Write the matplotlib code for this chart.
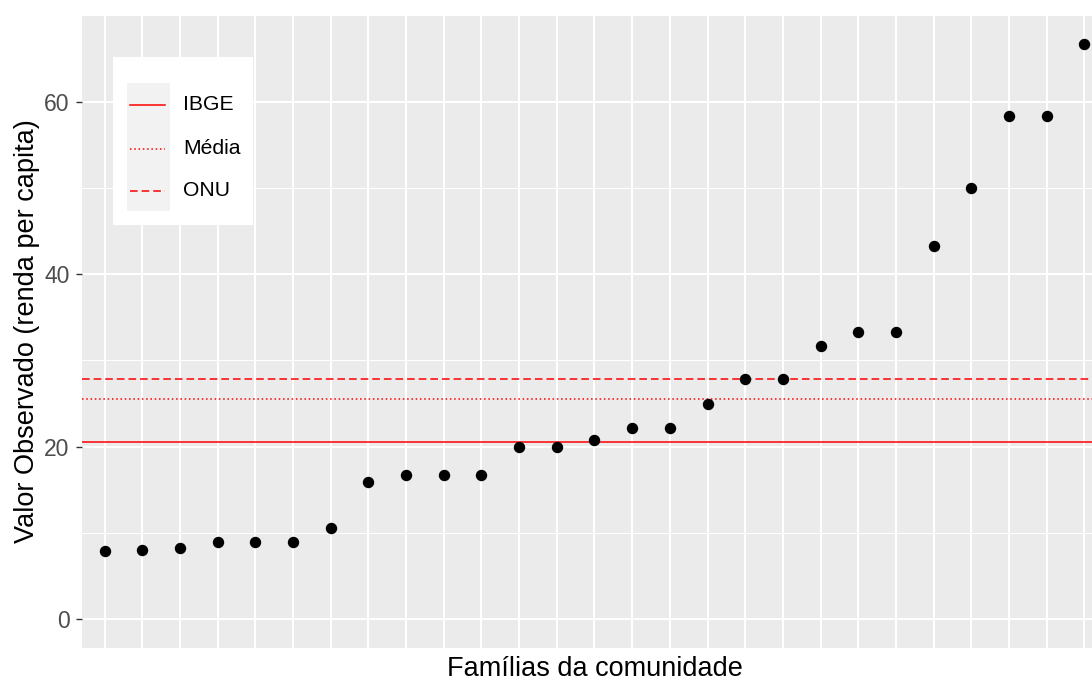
import matplotlib
matplotlib.use("Agg")
import matplotlib.pyplot as plt
from matplotlib.lines import Line2D
from matplotlib.patches import Rectangle
import numpy as np

plt.rcParams['font.family'] = ['Liberation Sans', 'DejaVu Sans']

familias = list(range(1, 28))
renda = [7.9, 8.0, 8.25, 8.9, 8.9, 8.9, 10.6, 15.9, 16.7, 16.7, 16.7,
         20.0, 20.0, 20.8, 22.2, 22.2, 25.0, 27.8, 27.8, 31.7, 33.3, 33.3,
         43.3, 50.0, 58.3, 58.3, 66.7]
ibge = 20.6
media = float(np.mean(renda))
onu = 27.9
ref_labels = ["IBGE", "Média", "ONU"]
y_ticks = [0, 20, 40, 60]

W, H = 1092, 684
fig = plt.figure(figsize=(W / 100, H / 100), dpi=100)
fig.patch.set_facecolor("white")

left_px, right_px, top_px, bottom_px = 82, 1107, 15, 648
ax = fig.add_axes([left_px / W, 1 - bottom_px / H,
                   (right_px - left_px) / W, (bottom_px - top_px) / H])
ax.set_facecolor("#EBEBEB")
for s in ax.spines.values():
    s.set_visible(False)

x = np.arange(len(familias))
ax.set_xlim(-0.6, len(familias) - 1 + 0.6)
ymin, ymax = 0, max(renda)
pad = 0.05 * (ymax - ymin)
ax.set_ylim(ymin - pad, ymax + pad)

# grid
for xi in x:
    ax.axvline(xi, color="white", lw=1.5, zorder=0)
for yv in [10, 30, 50, 70]:
    ax.axhline(yv, color="white", lw=0.75, zorder=0)
for yv in y_ticks:
    ax.axhline(yv, color="white", lw=1.5, zorder=0)

lw = 1.1
dotted = (0, (1, 1.8))
dashed = (0, (5, 2.6))
ax.axhline(ibge, color="red", lw=lw, linestyle="-", zorder=2)
ax.axhline(media, color="red", lw=lw, linestyle=dotted, zorder=2)
ax.axhline(onu, color="red", lw=lw, linestyle=dashed, zorder=2)

ax.plot(x, renda, "o", color="black", markersize=7.2, zorder=3)

ax.set_xticks([])
ax.set_yticks(y_ticks)
ax.tick_params(axis="y", length=4, width=1, color="#333333",
               labelcolor="#4D4D4D", labelsize=16.5, pad=5)
ax.set_ylabel("Valor Observado (renda per capita)", fontsize=19.5, color="black", labelpad=3)
ax.set_xlabel("Famílias da comunidade", fontsize=19.5, color="black", labelpad=6)

# legend (manual, ggplot style)
def fx(px):
    return px / W

def fy(py):
    return 1 - py / H

fig.add_artist(Rectangle((fx(113), fy(225)), fx(253) - fx(113), fy(57) - fy(225),
                         transform=fig.transFigure, facecolor="white", edgecolor="none", zorder=5))
fig.add_artist(Rectangle((fx(127), fy(211)), fx(170) - fx(127), fy(83) - fy(211),
                         transform=fig.transFigure, facecolor="#F2F2F2", edgecolor="none", zorder=6))
styles = ["-", dotted, dashed]
for lab, st, py in zip(ref_labels, styles, [105, 149, 191]):
    fig.add_artist(Line2D([fx(130), fx(165)], [fy(py), fy(py)], transform=fig.transFigure,
                          color="red", lw=lw, linestyle=st, zorder=7))
    fig.text(fx(183), fy(py), lab, fontsize=15.2, ha="left", va="center", zorder=7)

fig.savefig("out.png", dpi=100)
